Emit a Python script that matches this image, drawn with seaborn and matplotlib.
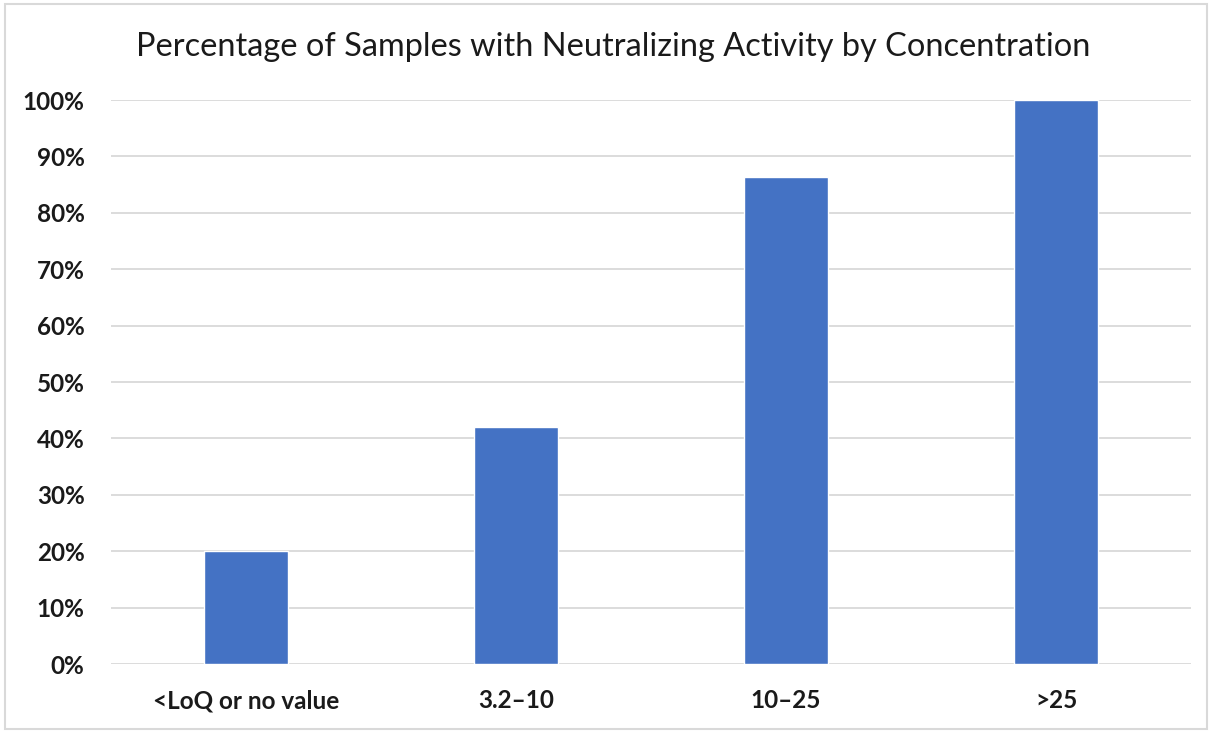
import matplotlib
matplotlib.use("Agg")
import matplotlib.pyplot as plt
import seaborn as sns
import pandas as pd
from matplotlib.patches import Rectangle
from matplotlib.ticker import FuncFormatter

categories = ["<LoQ or no value", "3.2\u201310", "10\u201325", ">25"]
values = [20.0, 42.0, 86.3, 100.0]
title = "Percentage of Samples with Neutralizing Activity by Concentration"

sns.set_theme(style="white")
plt.rcParams['font.family'] = ['Lato', 'DejaVu Sans']

df = pd.DataFrame({"cat": categories, "val": values})

fig = plt.figure(figsize=(12.12, 7.31), dpi=100)
ax = fig.add_axes([111/1212, 1 - 664/731, (1191-111)/1212, (664-100)/731])

sns.barplot(data=df, x="cat", y="val", color="#4472C4", width=0.31, ax=ax,
            saturation=1, zorder=3)

ax.set_ylim(0, 100)
ax.set_xlim(-0.5, 3.5)
ax.set_yticks(range(0, 101, 10))
ax.yaxis.set_major_formatter(FuncFormatter(lambda v, p: f"{int(v)}%"))
ax.grid(axis="y", color="#D9D9D9", linewidth=1.3, zorder=0)
ax.set_axisbelow(True)
for s in ax.spines.values():
    s.set_visible(False)
ax.tick_params(axis="both", length=0, labelsize=17.5, colors="#1a1a1a")
ax.tick_params(axis="y", pad=19)
ax.tick_params(axis="x", pad=18)
for lbl in ax.get_xticklabels() + ax.get_yticklabels():
    lbl.set_fontweight("bold")
ax.set_xlabel("")
ax.set_ylabel("")

fig.text(613/1212, 1 - 47/731, title, ha="center", va="center", fontsize=23.4, color="#1a1a1a")

fig.patches.append(Rectangle((5/1212, 2/731), 1 - 10/1212, 1 - 6/731, transform=fig.transFigure,
                             fill=False, edgecolor="#D9D9D9", linewidth=1.5))

fig.savefig("out.png", dpi=100)
